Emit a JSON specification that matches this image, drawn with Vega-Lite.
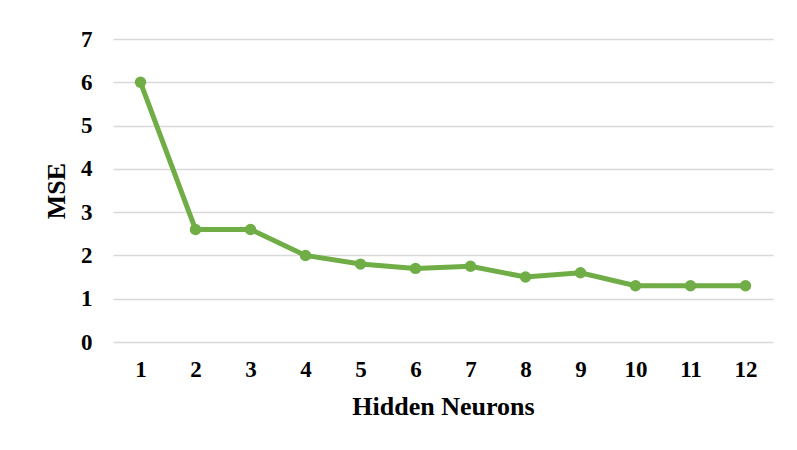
{
  "$schema": "https://vega.github.io/schema/vega-lite/v6.json",
  "autosize": "none",
  "width": 660,
  "height": 303,
  "padding": {"left": 113, "top": 39, "right": 24, "bottom": 108},
  "background": "white",
  "config": {
    "view": {"stroke": null},
    "font": "Liberation Serif"
  },
  "data": {
    "values": [
      {"neurons": 1, "mse": 6.0},
      {"neurons": 2, "mse": 2.6},
      {"neurons": 3, "mse": 2.6},
      {"neurons": 4, "mse": 2.0},
      {"neurons": 5, "mse": 1.8},
      {"neurons": 6, "mse": 1.7},
      {"neurons": 7, "mse": 1.75},
      {"neurons": 8, "mse": 1.5},
      {"neurons": 9, "mse": 1.6},
      {"neurons": 10, "mse": 1.3},
      {"neurons": 11, "mse": 1.3},
      {"neurons": 12, "mse": 1.3}
    ]
  },
  "mark": {"type": "line", "color": "#70AD47", "strokeWidth": 5, "point": {"filled": true, "size": 130, "color": "#70AD47"}},
  "encoding": {
    "x": {
      "field": "neurons", "type": "ordinal", "title": "Hidden Neurons",
      "scale": {"type": "point", "padding": 0.5},
      "axis": {"domain": false, "ticks": false, "tickSize": 0, "grid": false, "labelAngle": 0,
        "labelFont": "Liberation Serif", "labelFontSize": 23, "labelFontWeight": "bold", "labelColor": "#000000", "labelPadding": 16,
        "titleFont": "Liberation Serif", "titleFontSize": 26, "titleFontWeight": "bold", "titleColor": "#000000", "titlePadding": 12}
    },
    "y": {
      "field": "mse", "type": "quantitative", "title": "MSE",
      "scale": {"domain": [0, 7], "nice": false},
      "axis": {"values": [0,1,2,3,4,5,6,7], "domain": false, "ticks": false, "tickSize": 0, "grid": true, "gridColor": "#D9D9D9", "gridWidth": 1.5,
        "labelFont": "Liberation Serif", "labelFontSize": 23, "labelFontWeight": "bold", "labelColor": "#000000", "labelPadding": 21,
        "titleFont": "Liberation Serif", "titleFontSize": 26, "titleFontWeight": "bold", "titleColor": "#000000", "titlePadding": 11}
    }
  }
}
